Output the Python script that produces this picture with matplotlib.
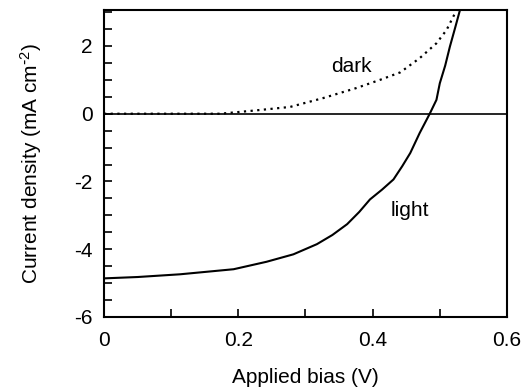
import matplotlib
matplotlib.use("Agg")
import matplotlib.pyplot as plt
from matplotlib.ticker import MultipleLocator

plt.rcParams['font.family'] = ['Liberation Sans', 'DejaVu Sans']
plt.rcParams['axes.unicode_minus'] = False
plt.rcParams['mathtext.default'] = 'regular'

light_v = [0.0, 0.05, 0.113, 0.193, 0.242, 0.282, 0.317, 0.340, 0.362, 0.380, 0.396, 0.414, 0.431,
           0.444, 0.456, 0.470, 0.485, 0.495, 0.50, 0.508, 0.515, 0.523, 0.530]
light_j = [-4.86, -4.82, -4.74, -4.59, -4.37, -4.15, -3.85, -3.58, -3.26, -2.90, -2.53, -2.24, -1.94,
           -1.55, -1.16, -0.57, 0.0, 0.41, 0.9, 1.42, 1.98, 2.55, 3.06]

dark_v = [0.0, 0.10, 0.173, 0.227, 0.277, 0.326, 0.376, 0.411, 0.441, 0.470, 0.495, 0.510, 0.525]
dark_j = [0.0, 0.0, 0.0, 0.1, 0.2, 0.46, 0.76, 1.0, 1.22, 1.64, 2.08, 2.47, 3.06]

xticks = [0, 0.2, 0.4, 0.6]
xtick_labels = ["0", "0.2", "0.4", "0.6"]
yticks = [-6, -4, -2, 0, 2]
ytick_labels = ["-6", "-4", "-2", "0", "2"]

fig = plt.figure(figsize=(5.24, 3.9), dpi=100)
ax = fig.add_axes([0.1985, 0.1872, 0.769, 0.787])

ax.axhline(0, color='black', lw=1.2)
ax.plot(light_v, light_j, color='black', lw=1.5)
ax.plot(dark_v, dark_j, color='black', lw=1.6, linestyle=(0, (1, 2)))

ax.set_xlim(0, 0.6)
ax.set_ylim(-6, 3.06)
ax.set_xticks(xticks)
ax.set_xticklabels(xtick_labels)
ax.set_yticks(yticks)
ax.set_yticklabels(ytick_labels)
ax.xaxis.set_minor_locator(MultipleLocator(0.1))
ax.yaxis.set_minor_locator(MultipleLocator(0.5))
ax.tick_params(which='both', direction='in', labelsize=15, width=1.2)
ax.tick_params(axis='x', which='major', length=6, pad=10)
ax.tick_params(axis='y', which='major', length=6, pad=8)
ax.tick_params(which='minor', length=6)
for s in ax.spines.values():
    s.set_linewidth(1.5)

ax.text(0.369, 1.4, "dark", fontsize=15, ha='center', va='center')
ax.text(0.456, -2.87, "light", fontsize=15, ha='center', va='center')

ax.set_xlabel("Applied bias (V)", fontsize=15, labelpad=13)
ax.set_ylabel("Current density (mA cm$^{\\text{-}2}$)", fontsize=15, labelpad=22)

fig.savefig("out.png", dpi=100)
